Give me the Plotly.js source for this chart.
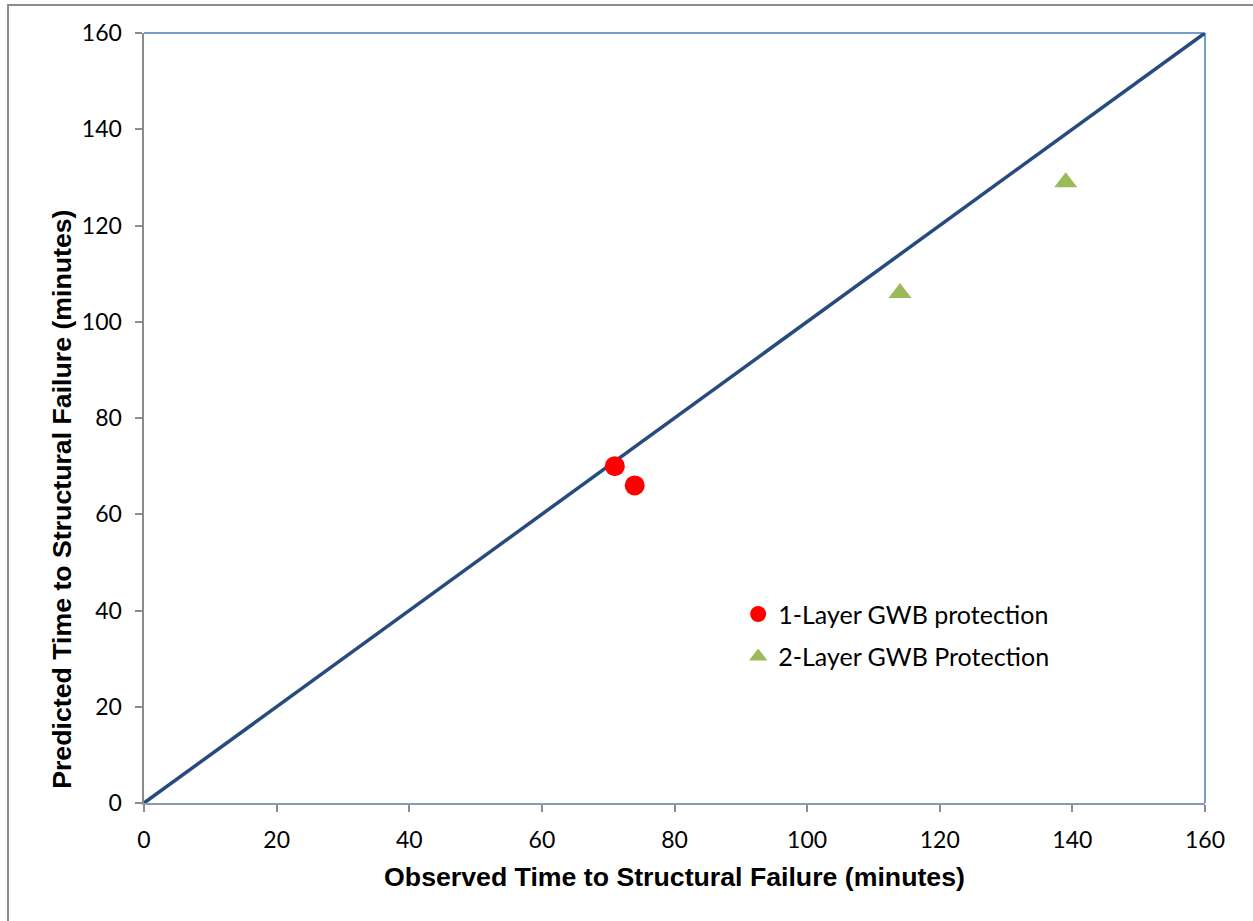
<!DOCTYPE html>
<html><head><meta charset="utf-8">
<script src="https://cdn.plot.ly/plotly-3.0.1.min.js"></script>
<style>
html,body{margin:0;padding:0;background:#fff;overflow:hidden;}
#frame{position:absolute;left:7px;top:4px;width:1300px;height:1000px;border-left:2px solid #8c8c8c;border-top:2px solid #8c8c8c;pointer-events:none;z-index:5;}
#chart{position:absolute;left:0;top:0;width:1253px;height:921px;}
</style></head>
<body>
<div id="chart"></div>
<div id="frame"></div>
<script>
const lineX = [0, 160];
const lineY = [0, 160];
const oneLayerObserved = [71, 74];
const oneLayerPredicted = [70, 66];
const twoLayerObserved = [114, 139];
const twoLayerPredicted = [106, 129];
const tickVals = [0, 20, 40, 60, 80, 100, 120, 140, 160];
const xTitle = 'Observed Time to Structural Failure (minutes)';
const yTitle = 'Predicted Time to Structural Failure (minutes)';

const traces = [
  {x: lineX, y: lineY, mode: 'lines', line: {color: '#264B7D', width: 3.5}, showlegend: false, hoverinfo: 'skip'},
  {x: oneLayerObserved, y: oneLayerPredicted, mode: 'markers', name: '1-Layer GWB protection', legendgroup: 'a',
   marker: {symbol: 'circle', color: '#FF0000', size: 20}},
  {x: twoLayerObserved, y: twoLayerPredicted, mode: 'markers', name: '2-Layer GWB Protection', legendgroup: 'b',
   marker: {symbol: 'triangle-up', color: '#9BBB59', size: 20}}
];

const tickFont = {family: 'Lato', size: 23, color: '#000'};
const titleFont = {family: 'Arial', size: 26.7, color: '#000', weight: 'bold'};
const layout = {
  width: 1253, height: 921,
  margin: {l: 144, r: 48, t: 33, b: 118},
  paper_bgcolor: '#fff', plot_bgcolor: '#fff',
  showlegend: true,
  legend: {x: 0.56, y: 0.275, xanchor: 'left', yanchor: 'top', bgcolor: 'rgba(0,0,0,0)',
    font: {family: 'Lato', size: 25, color: '#000'}, traceorder: 'grouped', tracegroupgap: 7, itemsizing: 'trace'},
  xaxis: {range: [0, 160], tickvals: tickVals, ticktext: tickVals.map(String), showgrid: false, zeroline: false,
    showline: true, linecolor: '#8c9bb0', linewidth: 2, ticks: 'outside', ticklen: 7, tickcolor: '#8c8c8c', tickwidth: 2,
    tickfont: tickFont, ticklabelstandoff: 8,
    title: {text: xTitle, standoff: 16, font: titleFont}},
  yaxis: {range: [0, 160], tickvals: tickVals, ticktext: tickVals.map(String), showgrid: false, zeroline: false,
    showline: true, linecolor: '#8c8c8c', linewidth: 2.5, ticks: 'outside', ticklen: 7, tickcolor: '#8c8c8c', tickwidth: 2,
    tickfont: tickFont, ticklabelstandoff: 8},
  annotations: [
    {text: yTitle, xref: 'paper', yref: 'paper', x: -0.0773, y: 0.395, xanchor: 'center', yanchor: 'middle',
     textangle: -90, showarrow: false, font: titleFont}
  ],
  shapes: [
    {type: 'line', xref: 'paper', yref: 'paper', x0: 0, x1: 1, y0: 1, y1: 1, line: {color: '#7A9CCB', width: 2}, layer: 'below'},
    {type: 'line', xref: 'paper', yref: 'paper', x0: 1, x1: 1, y0: 0, y1: 1, line: {color: '#7A9CCB', width: 2}, layer: 'below'}
  ]
};
Plotly.newPlot('chart', traces, layout, {displayModeBar: false, staticPlot: true});
</script>
</body></html>
